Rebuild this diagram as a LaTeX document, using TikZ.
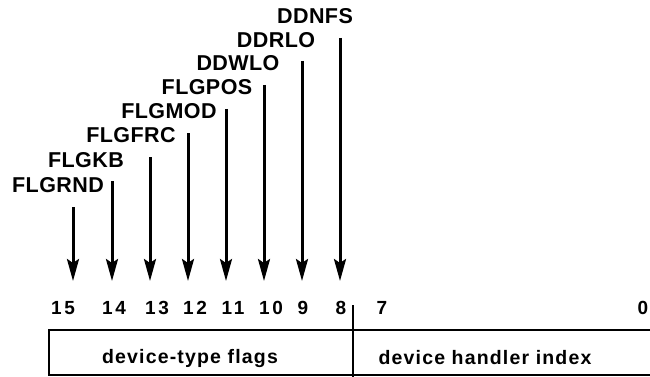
\documentclass[tikz,border=0pt]{standalone}
\usepackage{fontspec}
\setmainfont{Liberation Sans}
\usetikzlibrary{arrows.meta}

\tikzset{
  flag/.style={font=\fontsize{21.5}{23}\selectfont\bfseries\addfontfeature{LetterSpace=2}},
  bitno/.style={font=\fontsize{19}{21}\selectfont\bfseries\addfontfeature{LetterSpace=14}},
  field/.style={font=\fontsize{19.5}{21}\selectfont\bfseries\addfontfeature{LetterSpace=6}},
  flagarrow/.style={line width=3pt,-{Stealth[length=22pt,width=12pt,inset=4pt]}}
}

\begin{document}
\begin{tikzpicture}[x=1pt,y=-1pt]
    \useasboundingbox (0,0) rectangle (650,377);

    % Namen der Flags, treppenartig
    \node[flag] (rnd) at (58,185) {FLGRND};
    \node[flag] (kb)  at (86,160) {FLGKB};
    \node[flag] (frc) at (131,135) {FLGFRC};
    \node[flag] (mod) at (169,111) {FLGMOD};
    \node[flag] (pos) at (207,87) {FLGPOS};
    \node[flag] (wlo) at (238,63) {DDWLO};
    \node[flag] (rlo) at (276,40) {DDRLO};
    \node[flag] (nfs) at (315,16) {DDNFS};

    % Anfang und Spitze der Pfeile
    \coordinate (t15) at (73,207);  \coordinate (h15) at (73,281);
    \coordinate (t14) at (112,181); \coordinate (h14) at (112,281);
    \coordinate (t13) at (150,157); \coordinate (h13) at (150,281);
    \coordinate (t12) at (188,133); \coordinate (h12) at (188,281);
    \coordinate (t11) at (226,109); \coordinate (h11) at (226,281);
    \coordinate (t10) at (264,85);  \coordinate (h10) at (264,281);
    \coordinate (t9)  at (302,61);  \coordinate (h9)  at (302,281);
    \coordinate (t8)  at (340,38);  \coordinate (h8)  at (340,281);

    \draw[flagarrow] (t15)--(h15);
    \draw[flagarrow] (t14)--(h14);
    \draw[flagarrow] (t13)--(h13);
    \draw[flagarrow] (t12)--(h12);
    \draw[flagarrow] (t11)--(h11);
    \draw[flagarrow] (t10)--(h10);
    \draw[flagarrow] (t9)--(h9);
    \draw[flagarrow] (t8)--(h8);

    % Bitnummern
    \node[bitno] (b15) at (63,308) {15};
    \node[bitno] (b14) at (114,308) {14};
    \node[bitno] (b13) at (157,308) {13};
    \node[bitno] (b12) at (195,308) {12};
    \node[bitno] (b11) at (233,308) {11};
    \node[bitno] (b10) at (271,308) {10};
    \node[bitno] (b9)  at (303,308) {9};
    \node[bitno] (b8)  at (341,308) {8};
    \node[bitno] (b7)  at (382,308) {7};
    \node[bitno] (b0)  at (643,308) {0};

    % Wortkasten mit Trennstrich zwischen Bit 8 und 7
    \coordinate (bl) at (49,375);
    \coordinate (tl) at (49,330);
    \coordinate (tr) at (652,330);
    \coordinate (br) at (652,375);
    \coordinate (dtop) at (353,305);
    \coordinate (dbot) at (353,377);
    \draw[line width=1.6pt] (br)--(bl)--(tl)--(tr);
    \draw[line width=1.6pt] (dtop)--(dbot);

    \node[field] (hi) at (190,358) {device-type flags};
    \node[field] (lo) at (485,358) {device handler index};

\end{tikzpicture}
\end{document}
